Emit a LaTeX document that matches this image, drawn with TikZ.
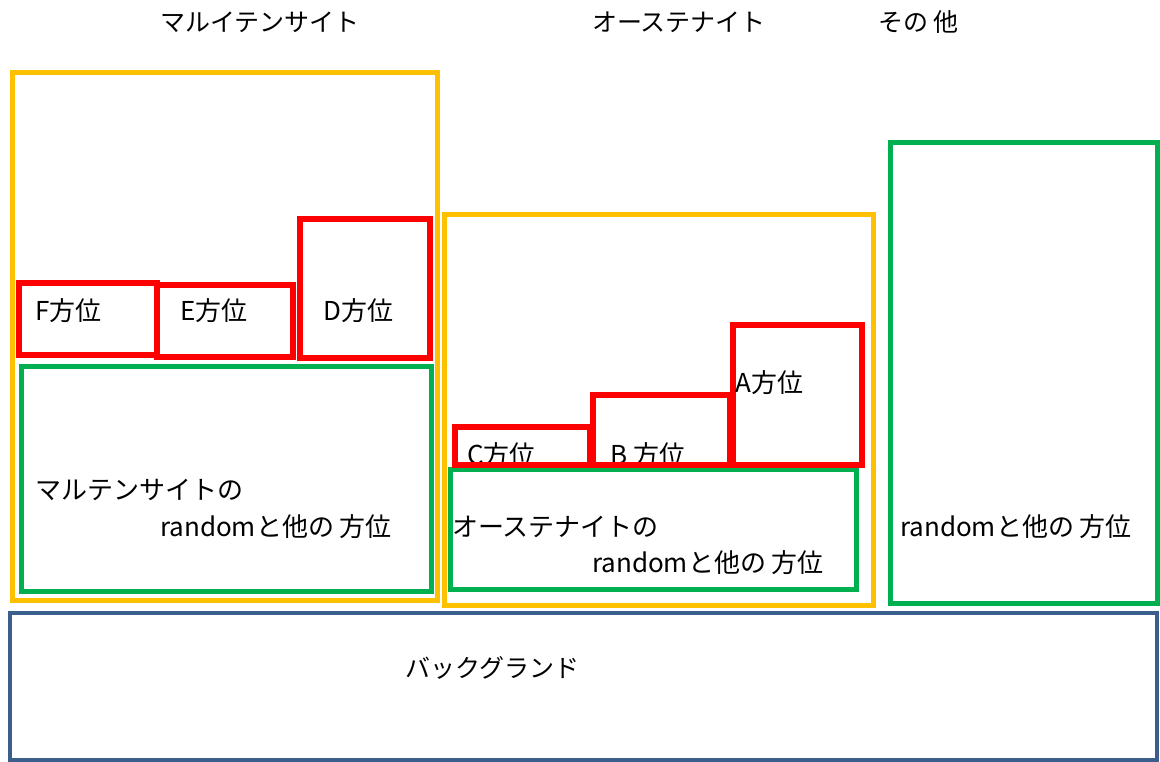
\documentclass[tikz,border=0pt]{standalone}
\usepackage{fontspec}
\setmainfont{Noto Sans CJK JP}
\begin{document}
\begin{tikzpicture}[x=1pt,y=-1pt,
	orangebox/.style={draw=orgline, line width=5pt},
	greenbox/.style={draw=grnline, line width=5pt},
	redbox/.style={draw=red, line width=5.5pt},
	bluebox/.style={draw=bluline, line width=4pt},
	txt/.style={inner sep=0pt, anchor=west, font=\fontsize{25}{28}\selectfont},
	boxtxt/.style={txt, font=\fontsize{26}{29}\selectfont}]
	\definecolor{orgline}{HTML}{FFC000}
	\definecolor{grnline}{HTML}{00B050}
	\definecolor{bluline}{HTML}{3C5E8C}
	\useasboundingbox (0,0) rectangle (1160,762);
	% titles
	\node[txt] (tMart) at (160,22) {マルイテンサイト};
	\node[txt] (tAust) at (592,22) {オーステナイト};
	\node[txt] (tOther) at (878,22) {その 他};
	% martensite
	\draw [orangebox] (12,73) rectangle (437,600);
	\draw [greenbox] (21,366) rectangle (431,591);
	\draw [redbox] (19,283) rectangle (157,355);
	\draw [redbox] (157,285) rectangle (293,357);
	\draw [redbox] (300,219) rectangle (430,358);
	\node[boxtxt] (lblF) at (35,311) {F方位};
	\node[boxtxt] (lblE) at (180,311) {E方位};
	\node[boxtxt] (lblD) at (323,311) {D方位};
	\node[boxtxt] (mRand1) at (35,490) {マルテンサイトの};
	\node[boxtxt] (mRand2) at (160,527) {randomと他の 方位};
	% austenite
	\draw [orangebox] (444,215) rectangle (873,605);
	\draw [greenbox] (450,469) rectangle (856,589);
	\begin{scope}
		\clip (455,427) rectangle (862,462);
		\node[boxtxt] (lblC) at (467,455) {C方位};
		\node[boxtxt] (lblB) at (610,455) {B 方位};
	\end{scope}
	\draw [redbox] (455,427) rectangle (590,465);
	\draw [redbox] (593,395) rectangle (730,465);
	\draw [redbox] (733,325) rectangle (862,465);
	\node[boxtxt] (lblA) at (735,383) {A方位};
	\node[boxtxt] (aRand1) at (452,527) {オーステナイトの};
	\node[boxtxt] (aRand2) at (592,563) {randomと他の 方位};
	% others
	\draw [greenbox] (890,143) rectangle (1157,603);
	\node[boxtxt] (oRand) at (900,527) {randomと他の 方位};
	% background
	\draw [bluebox] (10,613) rectangle (1157,760);
	\node[txt] (bg) at (405,668) {バックグランド};
\end{tikzpicture}
\end{document}
